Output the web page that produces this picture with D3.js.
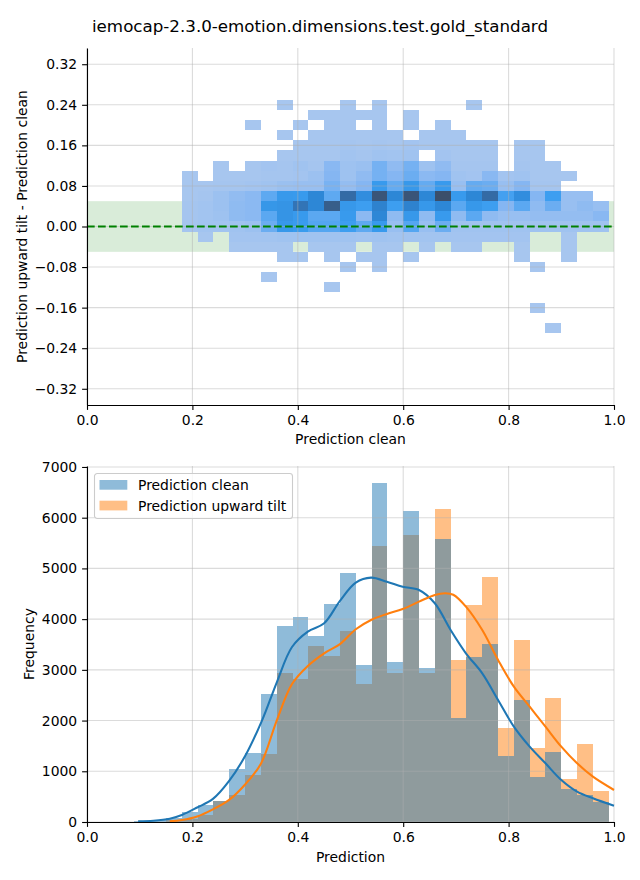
<!DOCTYPE html>
<html><head><meta charset="utf-8">
<script src="https://cdn.jsdelivr.net/npm/d3@7"></script>
<style>body{margin:0;background:#fff} svg text{font-family:"DejaVu Sans",sans-serif}</style>
</head><body><svg id="c" width="640" height="880"></svg>
<script>
// ---------------- DATA ----------------
const chartTitle = "iemocap-2.3.0-emotion.dimensions.test.gold_standard";
const xTicks = [0, 0.2, 0.4, 0.6, 0.8, 1.0];
const yTicksTop = [-0.32, -0.24, -0.16, -0.08, 0, 0.08, 0.16, 0.24, 0.32];
const yTicksBottom = [0, 1000, 2000, 3000, 4000, 5000, 6000, 7000];
const seriesNames = ["Prediction clean", "Prediction upward tilt"];

// histogram bins (left edges, width 0.03)
const histEdges = [0.09,0.12,0.15,0.18,0.21,0.24,0.27,0.30,0.33,0.36,0.39,0.42,0.45,0.48,0.51,0.54,0.57,0.60,0.63,0.66,0.69,0.72,0.75,0.78,0.81,0.84,0.87,0.90,0.93,0.96];
const histBinWidth = 0.03;
const cleanCounts = [10,30,80,203,335,420,1045,1360,2524,3865,4043,3668,4299,4910,3096,6685,3155,6133,3037,5581,2051,3254,3510,1301,2406,887,1380,651,532,394];
const tiltCounts  = [2,8,30,60,140,415,530,927,1341,2932,2820,3471,3274,3766,2721,5443,2938,5660,2938,6172,3194,4279,4831,1854,3589,1459,2445,848,1538,611];

// KDE curves
const cleanKdeX = [0.097,0.126,0.157,0.18,0.209,0.239,0.269,0.30,0.332,0.36,0.389,0.419,0.45,0.48,0.51,0.539,0.569,0.599,0.63,0.66,0.69,0.719,0.75,0.78,0.81,0.84,0.87,0.90,0.93,0.96,1.0];
const cleanKdeY = [15,26,65,138,285,455,800,1300,2000,2750,3450,3753,3918,4360,4720,4818,4739,4640,4575,4313,3786,3327,2932,2406,1880,1485,1157,828,598,467,320];
const tiltKdeX = [0.157,0.18,0.209,0.239,0.269,0.30,0.33,0.36,0.389,0.419,0.45,0.48,0.51,0.539,0.569,0.599,0.63,0.66,0.68,0.695,0.719,0.75,0.78,0.81,0.84,0.87,0.90,0.93,0.96,1.0];
const tiltKdeY = [15,40,110,250,430,740,1150,2000,2720,3076,3326,3507,3800,3983,4102,4200,4345,4476,4510,4480,4246,3786,3195,2668,2274,1880,1485,1157,893,631];

// 2D histogram: column left edges (width 0.03), row centres (height 0.02), relative counts
const hmCols = [0.18,0.21,0.24,0.27,0.30,0.33,0.36,0.39,0.42,0.45,0.48,0.51,0.54,0.57,0.60,0.63,0.66,0.69,0.72,0.75,0.78,0.81,0.84,0.87,0.90,0.93,0.96];
const hmColWidth = 0.03, hmRowHeight = 0.02;
const hmRows = [0.24,0.22,0.20,0.18,0.16,0.14,0.12,0.10,0.08,0.06,0.04,0.02,0.00,-0.02,-0.04,-0.06,-0.08,-0.10,-0.12,-0.14,-0.16,-0.18,-0.20];
const hmCounts = [
 [0,0,0,0,0,0,2,0,0,0,2,0,2,0,0,0,0,0,2,0,0,0,0,0,0,0,0],
 [0,0,0,0,0,0,0,0,2,2,2,2,2,0,2,0,0,0,0,0,0,0,0,0,0,0,0],
 [0,0,0,0,2,0,0,2,0,2,2,0,2,0,2,0,2,0,0,0,0,0,0,0,0,0,0],
 [0,0,0,0,0,0,2,0,2,2,2,2,2,2,0,2,2,2,0,0,0,0,0,0,0,0,0],
 [0,0,0,0,0,0,0,2,2,2,3,2,3,2,4,2,2,2,2,2,0,2,2,0,0,0,0],
 [0,0,0,0,0,0,2,2,2,2,5,3,6,5,6,0,4,2,2,2,0,2,2,0,0,0,0],
 [0,0,2,0,2,4,3,6,3,18,7,9,25,14,25,7,14,3,3,3,0,3,2,2,0,0,0],
 [2,0,2,2,2,3,3,4,8,20,7,14,25,20,28,17,20,6,4,18,4,6,2,2,2,0,0],
 [2,2,3,3,4,6,9,10,10,24,12,20,45,30,47,30,45,10,30,28,10,20,3,3,0,0,0],
 [2,3,8,13,17,32,46,45,60,32,78,55,95,60,95,60,100,45,60,78,40,55,20,42,10,10,0],
 [3,5,8,15,17,48,50,72,60,88,47,42,63,42,63,47,60,33,47,42,20,33,15,28,10,15,10],
 [3,5,7,15,17,33,50,45,33,33,45,17,60,15,47,15,45,15,33,15,10,10,12,12,12,12,18],
 [3,5,5,6,8,28,47,44,35,35,42,32,45,10,35,10,28,6,6,6,6,6,6,6,6,6,6],
 [0,2,0,4,4,5,6,6,6,6,6,5,6,5,5,5,5,4,4,4,4,4,0,0,2,0,0],
 [0,0,0,2,2,2,2,0,2,2,2,0,2,2,0,2,0,2,2,0,0,2,0,0,2,0,0],
 [0,0,0,0,0,0,2,2,0,2,0,2,2,0,2,0,0,0,0,0,0,2,0,0,2,0,0],
 [0,0,0,0,0,0,0,0,0,0,2,0,2,0,0,0,0,0,0,0,0,0,2,0,0,0,0],
 [0,0,0,0,0,2,0,0,0,0,0,0,0,0,0,0,0,0,0,0,0,0,0,0,0,0,0],
 [0,0,0,0,0,0,0,0,0,2,0,0,0,0,0,0,0,0,0,0,0,0,0,0,0,0,0],
 [0,0,0,0,0,0,0,0,0,0,0,0,0,0,0,0,0,0,0,0,0,0,0,0,0,0,0],
 [0,0,0,0,0,0,0,0,0,0,0,0,0,0,0,0,0,0,0,0,0,0,2,0,0,0,0],
 [0,0,0,0,0,0,0,0,0,0,0,0,0,0,0,0,0,0,0,0,0,0,0,0,0,0,0],
 [0,0,0,0,0,0,0,0,0,0,0,0,0,0,0,0,0,0,0,0,0,0,0,2,0,0,0]
];
const toleranceBand = [-0.05, 0.05];

// ---------------- DRAW ----------------
const svg = d3.select("#c");
const FS = 13.9;
const BLUE = "#1f77b4", ORANGE = "#ff7f0e";

svg.append("text").attr("x", 320).attr("y", 32).attr("text-anchor", "middle")
  .attr("font-size", 16.7).attr("fill", "#000").text(chartTitle);

function styleAxis(g) {
  g.attr("font-size", FS).attr("font-family", "DejaVu Sans");
  g.selectAll("path.domain").attr("stroke", "#000").attr("stroke-width", 1.1);
  g.selectAll(".tick line").attr("stroke", "#000").attr("stroke-width", 1.1);
  g.selectAll(".tick text").attr("fill", "#000");
}
function drawGrid(g, x, y, xt, yt) {
  const gg = g.append("g").attr("stroke", "#b0b0b0").attr("stroke-opacity", 0.45).attr("stroke-width", 1.1);
  xt.forEach(v => gg.append("line").attr("x1", x(v)).attr("x2", x(v)).attr("y1", y.range()[0]).attr("y2", y.range()[1]));
  yt.forEach(v => gg.append("line").attr("y1", y(v)).attr("y2", y(v)).attr("x1", x.range()[0]).attr("x2", x.range()[1]));
}

// ---- Top panel ----
const T = {l: 87, r: 614, t: 48, b: 405};
const x1 = d3.scaleLinear().domain([0, 1]).range([T.l, T.r]);
const y1 = d3.scaleLinear().domain([-0.352, 0.352]).range([T.b, T.t]);
const gTop = svg.append("g");

gTop.append("rect").attr("x", x1(0)).attr("width", x1(1) - x1(0))
  .attr("y", y1(toleranceBand[1])).attr("height", y1(toleranceBand[0]) - y1(toleranceBand[1]))
  .attr("fill", "#008000").attr("fill-opacity", 0.15);

const maxCount = d3.max(hmCounts.flat());
const cmap = d3.scaleLinear()
  .domain([0, 0.2, 0.43, 0.6, 0.8, 1])
  .range(["#abc8ef", "#85b6f2", "#3a9df0", "#2d87d6", "#3568a0", "#3b4f6a"])
  .interpolate(d3.interpolateRgb);
const cells = [];
hmRows.forEach((rv, ri) => hmCols.forEach((cv, ci) => {
  const c = hmCounts[ri][ci];
  if (c > 0) cells.push({x: cv, y: rv, c});
}));
gTop.append("g").selectAll("rect").data(cells).join("rect")
  .attr("x", d => x1(d.x)).attr("width", d => x1(d.x + hmColWidth) - x1(d.x))
  .attr("y", d => y1(d.y + hmRowHeight / 2)).attr("height", d => y1(d.y - hmRowHeight / 2) - y1(d.y + hmRowHeight / 2))
  .attr("fill", d => cmap(d.c / maxCount)).attr("shape-rendering", "crispEdges");

drawGrid(gTop, x1, y1, xTicks, yTicksTop);

gTop.append("line").attr("x1", x1(0)).attr("x2", x1(1)).attr("y1", y1(0)).attr("y2", y1(0))
  .attr("stroke", "#008000").attr("stroke-width", 2.08).attr("stroke-dasharray", "7.7,3.3");

const ax1x = gTop.append("g").attr("transform", `translate(0,${T.b})`)
  .call(d3.axisBottom(x1).tickValues(xTicks).tickFormat(d3.format(".1f")).tickSize(4.9).tickPadding(4.9).tickSizeOuter(0));
styleAxis(ax1x);
const ax1y = gTop.append("g").attr("transform", `translate(${T.l},0)`)
  .call(d3.axisLeft(y1).tickValues(yTicksTop).tickFormat(d3.format(".2f")).tickSize(4.9).tickPadding(4.9).tickSizeOuter(0));
styleAxis(ax1y);

gTop.append("text").attr("x", (T.l + T.r) / 2).attr("y", 444).attr("text-anchor", "middle")
  .attr("font-size", FS).text("Prediction clean");
gTop.append("text").attr("transform", `translate(27,${(T.t + T.b) / 2}) rotate(-90)`).attr("text-anchor", "middle")
  .attr("font-size", FS).text("Prediction upward tilt - Prediction clean");

// ---- Bottom panel ----
const B = {l: 87, r: 614, t: 466, b: 822};
const x2 = d3.scaleLinear().domain([0, 1]).range([B.l, B.r]);
const yMax = Math.max(d3.max(cleanCounts), d3.max(tiltCounts)) * 1.05;
const y2 = d3.scaleLinear().domain([0, yMax]).range([B.b, B.t]);
const gBot = svg.append("g");

function bars(counts, color) {
  gBot.append("g").selectAll("rect").data(counts).join("rect")
    .attr("x", (d, i) => x2(histEdges[i])).attr("width", (d, i) => x2(histEdges[i] + histBinWidth) - x2(histEdges[i]))
    .attr("y", d => y2(d)).attr("height", d => y2(0) - y2(d))
    .attr("fill", color).attr("fill-opacity", 0.5).attr("shape-rendering", "crispEdges");
}
bars(tiltCounts, ORANGE);
bars(cleanCounts, BLUE);

drawGrid(gBot, x2, y2, xTicks, yTicksBottom);

const line = d3.line().x(d => x2(d[0])).y(d => y2(d[1])).curve(d3.curveCatmullRom);
gBot.append("path").attr("d", line(cleanKdeX.map((v, i) => [v, cleanKdeY[i]])))
  .attr("fill", "none").attr("stroke", BLUE).attr("stroke-width", 2.08);
gBot.append("path").attr("d", line(tiltKdeX.map((v, i) => [v, tiltKdeY[i]])))
  .attr("fill", "none").attr("stroke", ORANGE).attr("stroke-width", 2.08);

const ax2x = gBot.append("g").attr("transform", `translate(0,${B.b})`)
  .call(d3.axisBottom(x2).tickValues(xTicks).tickFormat(d3.format(".1f")).tickSize(4.9).tickPadding(4.9).tickSizeOuter(0));
styleAxis(ax2x);
const ax2y = gBot.append("g").attr("transform", `translate(${B.l},0)`)
  .call(d3.axisLeft(y2).tickValues(yTicksBottom).tickFormat(d3.format("d")).tickSize(4.9).tickPadding(4.9).tickSizeOuter(0));
styleAxis(ax2y);

gBot.append("text").attr("x", (B.l + B.r) / 2).attr("y", 862).attr("text-anchor", "middle")
  .attr("font-size", FS).text("Prediction");
gBot.append("text").attr("transform", `translate(34,${(B.t + B.b) / 2}) rotate(-90)`).attr("text-anchor", "middle")
  .attr("font-size", FS).text("Frequency");

// legend
const lg = gBot.append("g").attr("transform", "translate(94.5,473.5)");
lg.append("rect").attr("width", 198).attr("height", 45).attr("rx", 2.8)
  .attr("fill", "#fff").attr("fill-opacity", 0.8).attr("stroke", "#cccccc").attr("stroke-width", 1.1);
[BLUE, ORANGE].forEach((c, i) => {
  const yy = 6.5 + i * 20.7;
  lg.append("rect").attr("x", 5).attr("y", yy).attr("width", 27.8).attr("height", 9.7)
    .attr("fill", c).attr("fill-opacity", 0.5);
  lg.append("text").attr("x", 43.5).attr("y", yy + 10).attr("font-size", FS).text(seriesNames[i]);
});
</script>
</body></html>
